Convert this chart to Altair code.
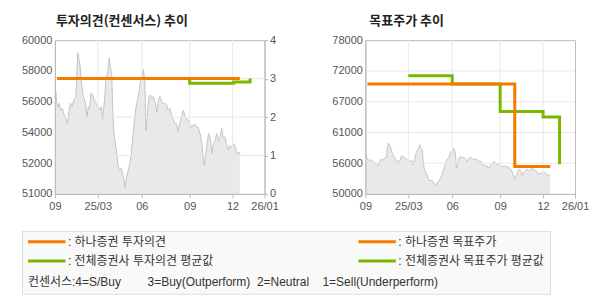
import altair as alt
import pandas as pd

# ---------------- data ----------------
price_dates = [
    "2024-12-09", "2024-12-11", "2024-12-12", "2024-12-15", "2024-12-17", "2024-12-20",
    "2024-12-23", "2024-12-26", "2024-12-30", "2025-01-02", "2025-01-05", "2025-01-08",
    "2025-01-11", "2025-01-14", "2025-01-18", "2025-01-20", "2025-01-22", "2025-01-24",
    "2025-01-26", "2025-01-29", "2025-02-01", "2025-02-03", "2025-02-06", "2025-02-08",
    "2025-02-11", "2025-02-13", "2025-02-16", "2025-02-19", "2025-02-22", "2025-02-26",
    "2025-03-01", "2025-03-04", "2025-03-08", "2025-03-11", "2025-03-15", "2025-03-18",
    "2025-03-22", "2025-03-25", "2025-03-27", "2025-03-30", "2025-04-01", "2025-04-03",
    "2025-04-06", "2025-04-09", "2025-04-12", "2025-04-15", "2025-04-19", "2025-04-22",
    "2025-04-25", "2025-04-27", "2025-04-30", "2025-05-03", "2025-05-07", "2025-05-10",
    "2025-05-13", "2025-05-17", "2025-05-20", "2025-05-24", "2025-05-27", "2025-05-30",
    "2025-06-02", "2025-06-04", "2025-06-07", "2025-06-09", "2025-06-13", "2025-06-15",
    "2025-06-18", "2025-06-20", "2025-06-23", "2025-06-27", "2025-06-30", "2025-07-03",
    "2025-07-06", "2025-07-09", "2025-07-12", "2025-07-16", "2025-07-19", "2025-07-22",
    "2025-07-25", "2025-07-29", "2025-08-01", "2025-08-04", "2025-08-07", "2025-08-10",
    "2025-08-14", "2025-08-17", "2025-08-20", "2025-08-23", "2025-08-26", "2025-08-30",
    "2025-09-02", "2025-09-05", "2025-09-09", "2025-09-12", "2025-09-16", "2025-09-19",
    "2025-09-23", "2025-09-26", "2025-09-30", "2025-10-02", "2025-10-05", "2025-10-08",
    "2025-10-11", "2025-10-14", "2025-10-18", "2025-10-21", "2025-10-25", "2025-10-28",
    "2025-11-01", "2025-11-04", "2025-11-08", "2025-11-11", "2025-11-15", "2025-11-18",
    "2025-11-22", "2025-11-25", "2025-11-29", "2025-12-02", "2025-12-04", "2025-12-05",
    "2025-12-07", "2025-12-08",
]
price_values = [
    56600, 57000, 56400, 56100, 56300, 55900,
    56000, 55700, 55400, 55100, 55900, 56300,
    56100, 56500, 56700, 58100, 59270, 58870,
    58500, 57500, 56700, 56600, 56200, 55500,
    56100, 56000, 56900, 56800, 56500, 56300,
    56100, 55900, 56100, 55300, 56500, 57700,
    58200, 58970, 58400, 58100, 56100, 54700,
    54100, 53500, 52760, 52360, 52500, 52170,
    51770, 51370, 51970, 52300, 52760, 53350,
    54330, 55320, 56100, 56600, 57100, 57700,
    57900, 58300, 57500, 54700, 56100, 56700,
    56800, 56600, 56700, 56300, 55800, 56500,
    56700, 56400, 56300, 56300, 56200, 55900,
    56000, 55500, 55300, 55100, 55100, 54630,
    55300, 55600, 55900, 55500, 55400, 55300,
    54830, 55000, 55000, 55100, 54900, 54900,
    54530, 54100, 53050, 52660, 53350, 53940,
    54530, 54300, 53350, 53940, 54100, 54530,
    54100, 54300, 54830, 54300, 54330, 53940,
    53550, 53840, 53700, 53940, 53700, 53350,
    53450, 53300,
]

# investment opinion (consensus score 0-4)
hana_op_dates = ["2024-12-13", "2025-12-08"]
hana_op_values = [3.0, 3.0]
avg_op_dates = ["2025-03-01", "2025-09-01", "2025-12-02", "2025-12-18"]
avg_op_values = [3.0, 2.88, 2.91, 3.0]

# target price
hana_tp_dates = ["2024-12-13", "2025-10-02", "2025-12-08"]
hana_tp_values = [70000, 55000, 55000]
avg_tp_dates = ["2025-03-01", "2025-06-01", "2025-09-01", "2025-12-01", "2025-12-17"]
avg_tp_values = [71500, 70000, 65000, 64000, 55400]

# axes
tick_dates = ["2024-12-09", "2025-03-01", "2025-06-01", "2025-09-01", "2025-12-01", "2026-01-01"]
tick_labels = ["09", "25/03", "06", "09", "12", "26/01"]
opinion_ticks = [0, 1, 2, 3, 4]
left_price_ticks = [51000, 52800, 54600, 56400, 58200, 60000]
left_price_labels = ["51000", "52000", "54000", "56000", "58000", "60000"]
right_price_ticks = [50000, 55600, 61200, 66800, 72400, 78000]
right_price_labels = ["50000", "56000", "61000", "67000", "72000", "78000"]

# legend entries, listed column by column (left column: opinion, right column: target price)
legend_series = ["하나증권 투자의견", "전체증권사 투자의견 평균값", "하나증권 목표주가", "전체증권사 목표주가 평균값"]
title_left = "투자의견(컨센서스) 추이"
title_right = "목표주가 추이"
NB = "\u00a0"
consensus_note = (NB * 4 + "컨센서스:4=S/Buy" + NB * 8 + "3=Buy(Outperform)" + NB * 2
                  + "2=Neutral" + NB * 4 + "1=Sell(Underperform)" + NB * 38)

# ---------------- styles ----------------
ORANGE = "#f47a00"
GREEN = "#7ab800"
AREA_FILL = "#e0e0e0"
AREA_LINE = "#c4c4c4"
GRID = "#e9e9e9"
FRAME = "#bbbbbb"
LABEL = "#555555"
NUM_FONT = "Liberation Sans"
KR_FONT = "Noto Sans CJK KR"
MIX_FONT = "Liberation Sans, Noto Sans CJK KR"
W, H = 210, 154
x_break_px = [0, 43, 87, 135, 178, 210]


def ms(dates):
    return [int(v) for v in (pd.to_datetime(dates).astype("int64") // 10**6)]


tick_ms = ms(tick_dates)


def num_label_expr(values, labels):
    parts = [f"datum.value == {v} ? '{l}'" for v, l in zip(values, labels)]
    return " : ".join(parts) + " : ''"


x_scale = alt.Scale(type="linear", domain=tick_ms, range=x_break_px, nice=False, zero=False)
x_axis = alt.Axis(
    values=tick_ms, labelExpr=num_label_expr(tick_ms, tick_labels), grid=False,
    ticks=True, tickSize=4, tickColor=FRAME, domain=True, domainColor=FRAME,
    labelColor=LABEL, labelFont=NUM_FONT, labelFontSize=11, labelPadding=3,
    labelFlush=False, labelOverlap=False, title=None, minExtent=18, maxExtent=18, zindex=1,
)


def X():
    return alt.X("t:Q", scale=x_scale, axis=x_axis)


left_price_axis = alt.Axis(
    orient="left", values=left_price_ticks, labelExpr=num_label_expr(left_price_ticks, left_price_labels),
    grid=False, ticks=False, domain=True, domainColor=FRAME, labelColor=LABEL, labelFont=NUM_FONT,
    labelFontSize=11, labelPadding=3, title=None, minExtent=46, maxExtent=46, zindex=1,
    labelOverlap=False, labelFlush=False,
)
op_axis = alt.Axis(
    orient="right", values=opinion_ticks, format="d", grid=False, ticks=True, tickSize=3,
    tickColor=FRAME, domain=True, domainColor=FRAME, labelColor=LABEL, labelFont=NUM_FONT,
    labelFontSize=11, labelPadding=2, title=None, minExtent=20, maxExtent=20, zindex=1,
    labelOverlap=False, labelFlush=False,
)
right_price_axis = alt.Axis(
    orient="left", values=right_price_ticks, labelExpr=num_label_expr(right_price_ticks, right_price_labels),
    grid=False, ticks=False, domain=True, domainColor=FRAME, labelColor=LABEL, labelFont=NUM_FONT,
    labelFontSize=11, labelPadding=3, title=None, minExtent=50, maxExtent=50, zindex=1,
    labelOverlap=False, labelFlush=False,
)

left_price_scale = alt.Scale(domain=[51000, 60000], nice=False, zero=False)
op_scale = alt.Scale(domain=[0, 4], nice=False, zero=False)
right_price_scale = alt.Scale(domain=[50000, 78000], nice=False, zero=False)

price_df = pd.DataFrame({"t": ms(price_dates), "price": price_values})
gridv_df = pd.DataFrame({"t": tick_ms[1:-1]})


def area(yscale, yaxis, base):
    return alt.Chart(price_df).mark_area(
        color=AREA_FILL, line=alt.OverlayMarkDef(color=AREA_LINE, strokeWidth=1)
    ).encode(x=X(), y=alt.Y("price:Q", scale=yscale, axis=yaxis), y2=alt.datum(base))


def gridv():
    return alt.Chart(gridv_df).mark_rule(color=GRID, strokeWidth=1).encode(x=X())


def step_line(dates, values, color, field, yscale, yaxis):
    df = pd.DataFrame({"t": ms(dates), field: values})
    return alt.Chart(df).mark_line(interpolate="step-after", color=color, strokeWidth=3).encode(
        x=X(), y=alt.Y(f"{field}:Q", scale=yscale, axis=yaxis)
    )


def title(text, dx):
    return alt.TitleParams(text=text, anchor="start", frame="group", font=KR_FONT, fontSize=13,
                           fontWeight="bold", color="#222222", offset=6, dx=dx)


# ---- left: investment opinion ----
gridh_left = alt.Chart(pd.DataFrame({"v": opinion_ticks[1:-1]})).mark_rule(color=GRID, strokeWidth=1).encode(
    y=alt.Y("v:Q", scale=op_scale, axis=op_axis)
)
left = alt.layer(
    area(left_price_scale, left_price_axis, left_price_ticks[0]),
    alt.layer(
        gridv(),
        gridh_left,
        step_line(avg_op_dates, avg_op_values, GREEN, "v", op_scale, op_axis),
        step_line(hana_op_dates, hana_op_values, ORANGE, "v", op_scale, op_axis),
    ),
).resolve_scale(y="independent").properties(width=W, height=H, title=title(title_left, 1))

# ---- right: target price ----
gridh_right = alt.Chart(pd.DataFrame({"price": right_price_ticks[1:-1]})).mark_rule(
    color=GRID, strokeWidth=1
).encode(y=alt.Y("price:Q", scale=right_price_scale, axis=right_price_axis))
right = alt.layer(
    area(right_price_scale, right_price_axis, right_price_ticks[0]),
    gridv(),
    gridh_right,
    step_line(avg_tp_dates, avg_tp_values, GREEN, "price", right_price_scale, right_price_axis),
    step_line(hana_tp_dates, hana_tp_values, ORANGE, "price", right_price_scale, right_price_axis),
).properties(width=W, height=H, title=title(title_right, 4))

# ---- legend (boxed, placed below both charts) ----
legend_holder = alt.Chart(pd.DataFrame({"series": legend_series})).mark_line(strokeWidth=3).encode(
    color=alt.Color(
        "series:N",
        scale=alt.Scale(domain=legend_series, range=[ORANGE, GREEN, ORANGE, GREEN]),
        legend=alt.Legend(
            orient="none", legendX=-33, legendY=191, columns=2, padding=6,
            fillColor="#f9f9f9", strokeColor="#dddddd",
            symbolType="M-3,0H3", symbolSize=169, symbolStrokeWidth=3, symbolOffset=10,
            clipHeight=10, rowPadding=7.3, columnPadding=145, labelOffset=14,
            labelExpr="': ' + datum.label", labelFont=MIX_FONT, labelFontSize=12,
            labelColor="#333333", labelLimit=0,
            title=consensus_note, titleOrient="bottom", titleAnchor="start", titleFont=MIX_FONT,
            titleFontSize=12, titleFontWeight="normal", titleColor="#333333", titlePadding=10,
            titleLimit=0,
        ),
    )
).properties(width=1, height=1, view=alt.ViewBackground(fill=None, stroke=None))

chart = alt.vconcat(
    alt.hconcat(left, right, spacing=29),
    legend_holder,
    spacing=4,
).resolve_scale(color="shared").resolve_legend(color="shared").properties(
    padding={"left": 8, "top": 14, "right": 0, "bottom": 0}
).configure_view(stroke=FRAME, strokeWidth=1)

chart.save("out.html", embed_options={"renderer": "svg", "actions": False})
